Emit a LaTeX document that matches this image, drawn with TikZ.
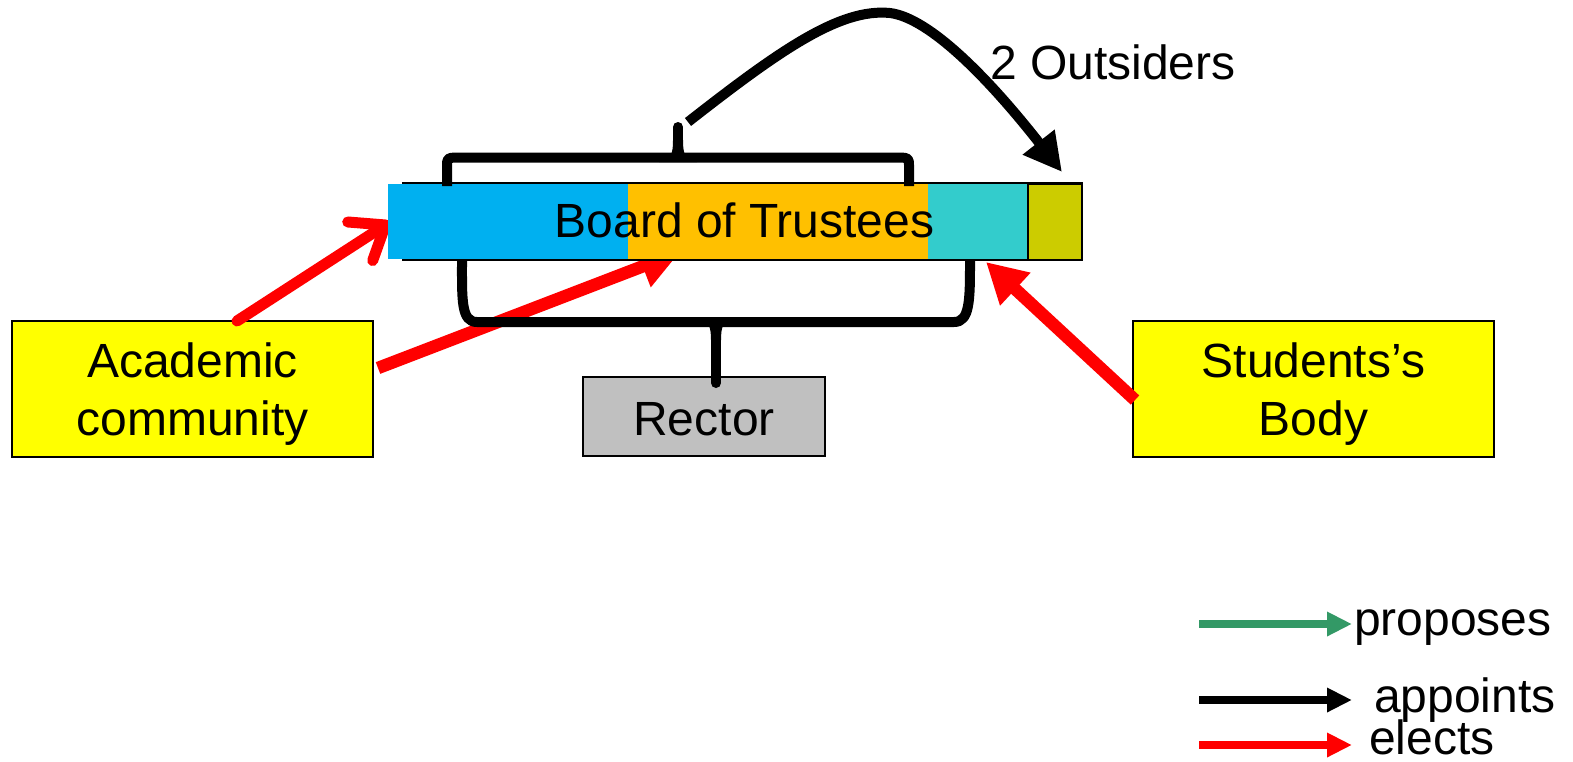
\documentclass[tikz,border=0pt]{standalone}
\usepackage{fontspec}
\setmainfont{Liberation Sans}
\usetikzlibrary{arrows.meta}
\definecolor{cblue}{HTML}{00B0F0}
\definecolor{corange}{HTML}{FFC000}
\definecolor{cteal}{HTML}{33CCCC}
\definecolor{colive}{HTML}{CCCC00}
\definecolor{cyellow}{HTML}{FFFF00}
\definecolor{cgray}{HTML}{C0C0C0}
\definecolor{cgreen}{HTML}{339966}
\definecolor{cred}{HTML}{FF0000}
\newcommand{\twolines}[2]{\raisebox{-5.4pt}[\height][\depth]{\begin{tabular}{@{}c@{}}#1\\#2\end{tabular}}}
\begin{document}
\begin{tikzpicture}[x=1pt,y=-1pt,
  every node/.style={font=\fontsize{48}{58}\selectfont, inner sep=0pt},
  ybox/.style={draw, line width=1.5pt, fill=cyellow, minimum width=361pt, minimum height=136pt},
  gbox/.style={draw, line width=1.5pt, fill=cgray, minimum width=242pt, minimum height=79pt, text height=37pt, text depth=0pt},
  seg/.style={minimum height=74.5pt},
  elect/.style={draw=cred, line width=12.5pt, -{Triangle[length=40pt,width=42pt]}},
  electbarb/.style={draw=cred, line width=11pt, line cap=round, -{Straight Barb[length=30pt,width=46pt,round]}},
  bracepath/.style={draw, line width=10pt, line cap=butt, line join=round},
  legarrow/.style={line width=8pt, -{Triangle[length=25pt,width=23pt]}},
  legtext/.style={anchor=base west}
]
\useasboundingbox (0,0) rectangle (1573,761);

% boxes
\node[ybox] (acad) at (192.5,389) {\twolines{Academic}{community}};
\node[ybox] (stud) at (1313.5,389) {\twolines{Students’s}{Body}};
\node[gbox] (rector) at (704,416.5) {Rector};

% connector end points
\coordinate (a1s) at (237,321);
\coordinate (a1e) at (390,222);
\coordinate (a2s) at (378,368);
\coordinate (a2e) at (680,252);
\coordinate (s1s) at (1135,400);
\coordinate (s1e) at (986,262);

% red "elects" arrows
\draw[electbarb] (a1s) -- (a1e);
\draw[elect] (a2s) -- (a2e);
\draw[elect] (s1s) -- (s1e);

% board of trustees bar
\node[draw, line width=2pt, minimum width=679pt, minimum height=77pt] (frame) at (742.5,221.5) {};
\node[seg, fill=cblue, minimum width=240pt] (bblue) at (508,221.25) {};
\node[seg, fill=corange, minimum width=300pt] (borange) at (778,221.25) {};
\node[seg, fill=cteal, minimum width=100pt] (bteal) at (978,221.25) {};
\node[draw, line width=2pt, fill=colive, minimum width=54pt, minimum height=76pt] (bolive) at (1055,221.5) {};
\node[anchor=base] (board) at (744.5,237) {Board of Trustees};

% top brace
\draw[bracepath] (447,186) -- (447,167) .. controls (447,158) .. (456,157.5) -- (900,157.5) .. controls (909,158) .. (909,167) -- (909,186);
\draw[line width=10pt, line cap=round] (678,156) -- (678,127);
\fill (659,162) .. controls (672,160) and (673,152) .. (673,140) -- (683,140) .. controls (683,152) and (684,160) .. (697,162) -- cycle;

% bottom brace
\draw[bracepath] (462,260) .. controls (462,300) and (461,322) .. (477,322) -- (954,322) .. controls (970,322) and (970,300) .. (970,260);
\draw[line width=10pt, line cap=round] (716,324) -- (716,383);
\fill (696,317) .. controls (709,319) and (711,327) .. (711,340) -- (721,340) .. controls (721,327) and (723,319) .. (736,317) -- cycle;

% curved "appoints" arrow
\coordinate (cs) at (688,122);
\coordinate (ce) at (1062,172);
\draw[line width=10pt, -{Triangle[length=38pt,width=38pt]}] (cs) .. controls (780,50) and (840,8) .. (890,13) .. controls (930,18) and (990,80) .. (ce);
\node[anchor=base west] (outs) at (990,79) {2 Outsiders};

% legend
\coordinate (l1s) at (1199,624); \coordinate (l1e) at (1352,624);
\coordinate (l2s) at (1199,700); \coordinate (l2e) at (1352,700);
\coordinate (l3s) at (1199,745); \coordinate (l3e) at (1352,745);
\draw[legarrow, draw=cgreen, fill=cgreen] (l1s) -- (l1e);
\draw[legarrow, draw=black, fill=black] (l2s) -- (l2e);
\draw[legarrow, draw=cred, fill=cred] (l3s) -- (l3e);
\node[legtext] (lprop) at (1354,635) {proposes};
\node[legtext] (lapp) at (1374,712) {appoints};
\node[legtext] (lel) at (1369,754) {elects};
\end{tikzpicture}
\end{document}
